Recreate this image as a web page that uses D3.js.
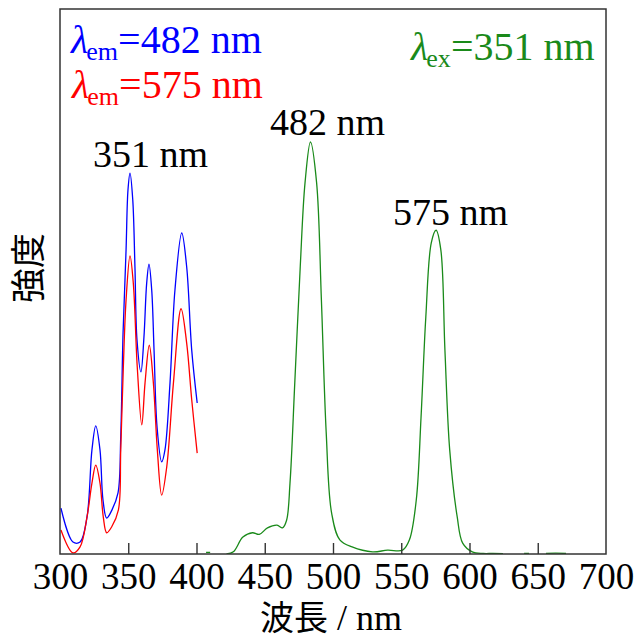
<!DOCTYPE html>
<html><head><meta charset="utf-8">
<script src="https://cdn.jsdelivr.net/npm/d3@7"></script>
<style>body{margin:0;background:#fff}svg{display:block}</style>
</head><body>
<svg id="c" width="636" height="642"></svg>
<script>
// x-axis ticks (nm)
const xTicks = [300, 350, 400, 450, 500, 550, 600, 650, 700];
// excitation spectrum monitored at 482 nm (blue)
const blueWl = [300.7,309.5,314.7,319.8,323.4,326.2,329.3,331.5,334.2,338.1,342.5,344.5,346.2,348.4,349.8,351.3,353.3,354.9,356.4,359.3,361.5,363.5,365.2,367.2,368.9,371.1,374.5,376.9,380.6,384.2,389.2,392.8,396.5,400.5];
const blueI  = [8.4,2.2,2.2,6.8,19.1,23.5,19.1,9.9,6.6,8.1,11.2,21.5,40.6,55.8,66.8,69.9,65.0,52.7,39.3,33.4,39.8,49.7,53.2,48.4,37.4,23.3,16.9,19.1,31.4,48.4,58.9,52.7,37.4,27.7];
// excitation spectrum monitored at 575 nm (red)
const redWl = [300.7,309.5,314.7,319.8,323.4,326.2,329.3,331.7,334.2,337.9,342.8,344.5,346.4,348.4,351.3,353.7,356.6,359.9,362.3,365.4,368.4,371.3,374.5,378.2,383.1,388.7,392.8,396.5,400.5];
const redI  = [4.4,0.2,1.3,6.8,13.0,16.3,13.0,6.8,3.9,5.0,8.1,19.1,34.3,46.6,54.7,49.7,34.3,23.7,31.4,38.3,31.4,19.1,10.8,16.0,31.4,45.0,38.7,28.3,18.5];
// emission spectrum excited at 351 nm (green); null = gap
const greenWl = [407,410,415,422,427,434,441,446,452,459,463,466,468.5,472,476,479.5,483.5,488,491.5,495,499,505,514,529,540,551,556,561,564.5,568,572,575.5,579,582,585.5,591,595,602,610,617,624.5,630,640,643.6,650,656,663,670.7];
const greenI  = [0.3,0.3,null,0,0.4,3.1,3.9,3.6,4.8,5.3,4.8,6.2,13.0,31.4,52.7,68.1,75.6,68.1,46.6,22.4,7.5,2.6,1.3,0.4,0.7,0.7,2.6,9.9,25.1,43.5,57.1,59.4,55.8,37.4,19.1,6.8,2.0,0.4,0.1,0.1,0.05,null,0.1,0.1,null,0.1,0.15,0.1];

const svg = d3.select("#c");
const L = 60, R = 606, T = 9, B = 554;
const x = d3.scaleLinear().domain([300, 700]).range([L, R]);
const y = d3.scaleLinear().domain([0, 100]).range([B, B - 545]);
const serif = "'Liberation Serif','Times New Roman',serif";

svg.append("defs").append("clipPath").attr("id","clip")
  .append("rect").attr("x",L).attr("y",T).attr("width",R-L).attr("height",B-T);

const line = d3.line().defined(d => d[1] !== null)
  .x(d => x(d[0])).y(d => y(d[1])).curve(d3.curveCatmullRom.alpha(0.5));

const g = svg.append("g").attr("clip-path","url(#clip)");
g.append("path").datum(d3.zip(blueWl, blueI)).attr("d", line)
  .attr("fill","none").attr("stroke","#0000ff").attr("stroke-width",1.3);
g.append("path").datum(d3.zip(redWl, redI)).attr("d", line)
  .attr("fill","none").attr("stroke","#ff0000").attr("stroke-width",1.3);
g.append("path").datum(d3.zip(greenWl, greenI)).attr("d", line)
  .attr("fill","none").attr("stroke","#1a8a1a").attr("stroke-width",1.3);

// x axis with inward ticks
const ax = d3.axisBottom(x).tickValues(xTicks).tickSizeInner(-11).tickSizeOuter(0).tickPadding(10).tickFormat(d3.format("d"));
const axg = svg.append("g").attr("transform", `translate(0,${B})`).call(ax);
axg.select(".domain").remove();
axg.selectAll(".tick line").attr("stroke","#333").attr("stroke-width",1.4)
  .filter(d => d === 300 || d === 700).remove();
axg.selectAll(".tick text").attr("font-family", serif).attr("font-size", 37)
  .attr("fill","#000").attr("dy", null).attr("y", 35);

// frame
svg.append("rect").attr("x",L).attr("y",T).attr("width",R-L).attr("height",B-T)
  .attr("fill","none").attr("stroke","#333").attr("stroke-width",1.5);

// axis titles
const xt = svg.append("text").attr("x",331).attr("y",630).attr("text-anchor","middle")
  .attr("font-size",34).attr("fill","#000");
xt.append("tspan").attr("font-family","'Noto Sans CJK JP'").text("波長");
xt.append("tspan").attr("font-family",serif).attr("font-size",36).text(" / nm");

svg.append("text").attr("transform","translate(41,268) rotate(-90)").attr("text-anchor","middle")
  .attr("font-family","'Noto Sans CJK JP'").attr("font-size",35).attr("fill","#000").text("強度");

// legend-like labels
function lam(xp, yp, sub, rest, color){
  const t = svg.append("text").attr("x",xp).attr("y",yp).attr("font-family",serif)
    .attr("font-size",40).attr("fill",color);
  t.append("tspan").attr("font-style","italic").text("λ");
  t.append("tspan").attr("font-size",26).attr("dy",7).attr("dx",-2).text(sub);
  t.append("tspan").attr("dy",-7).text(rest);
}
lam(71, 53, "em", "=482 nm", "#0000ff");
lam(72, 98, "em", "=575 nm", "#ff0000");
lam(411, 60, "ex", "=351 nm", "#1a8a1a");

// peak labels
const peaks = [[93,167,"351 nm"],[270,135,"482 nm"],[393,225,"575 nm"]];
svg.selectAll("text.pk").data(peaks).enter().append("text").attr("class","pk")
  .attr("x",d=>d[0]).attr("y",d=>d[1]).attr("font-family",serif).attr("font-size",38)
  .attr("fill","#000").text(d=>d[2]);
</script>
</body></html>
